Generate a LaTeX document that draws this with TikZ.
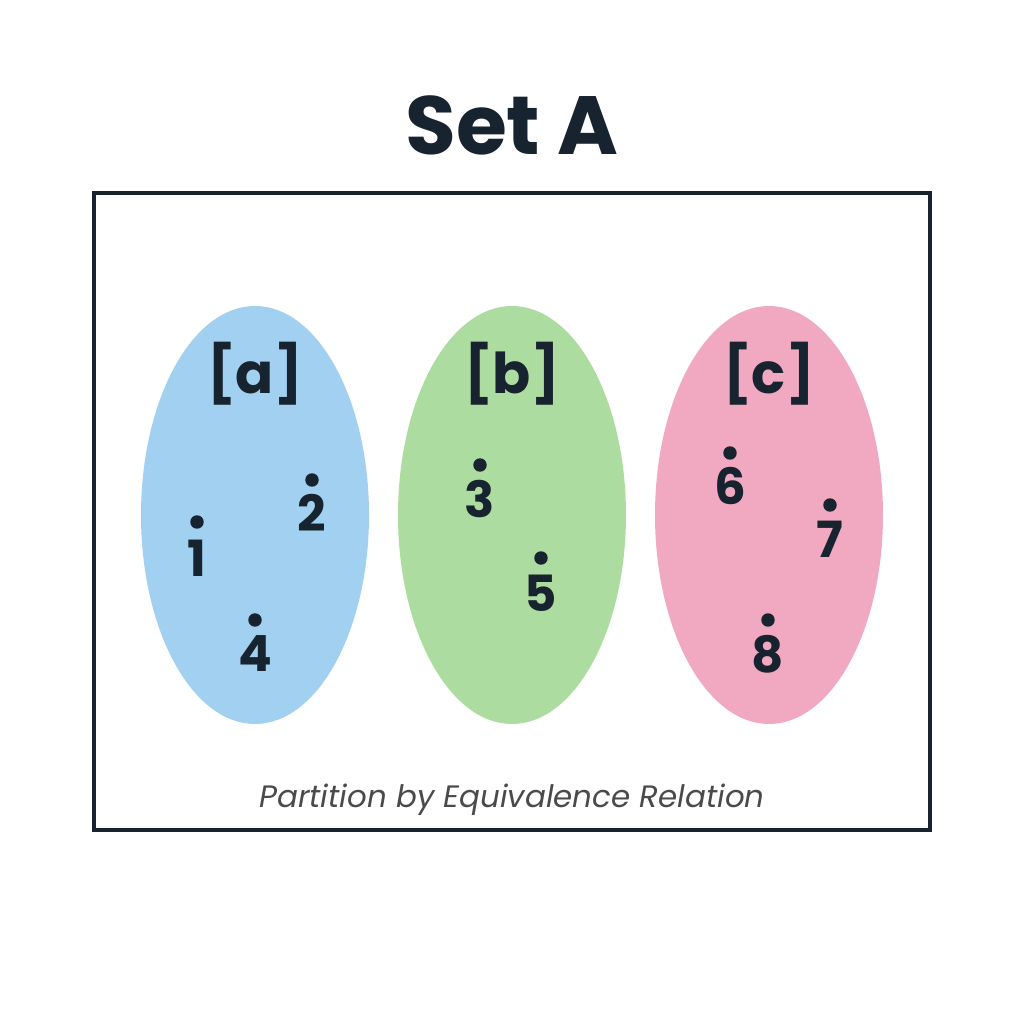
\documentclass[tikz,border=0pt]{standalone}
\usepackage{fontspec}
\setmainfont{Poppins}
\usepackage{xcolor}

\definecolor{ink}{HTML}{17232F}
\definecolor{classA}{HTML}{A2D0F0}
\definecolor{classB}{HTML}{ADDCA0}
\definecolor{classC}{HTML}{F0A9C1}
\definecolor{capgray}{HTML}{4A4A4A}

\tikzset{
  elem/.style={text=ink,font=\fontsize{14.2}{14.2}\selectfont\bfseries,anchor=base},
  clslabel/.style={text=ink,font=\fontsize{16}{16}\selectfont\bfseries,anchor=base},
}

\begin{document}
\begin{tikzpicture}
        \useasboundingbox (0,0) rectangle (10.24,10.24);
        \node[text=ink,font=\fontsize{23.5}{23.5}\selectfont\bfseries,anchor=base] (title) at (5.12,8.69) {Set A};
        \draw[ink,line width=1.2pt] (0.94,1.94) rectangle (9.30,8.31);

        % the three classes
        \fill[classA] (2.55,5.09) ellipse (1.14 and 2.09);
        \fill[classB] (5.12,5.09) ellipse (1.14 and 2.09);
        \fill[classC] (7.69,5.09) ellipse (1.14 and 2.09);
        \node[clslabel] (la) at (2.55,6.30) {[a]};
        \node[clslabel] (lb) at (5.12,6.30) {[b]};
        \node[clslabel] (lc) at (7.69,6.30) {[c]};

        % elements
        \filldraw[ink] (1.97,5.02) circle (0.06);
        \node[elem] (e1) at (1.97,4.47) {1};
        \filldraw[ink] (3.12,5.44) circle (0.06);
        \node[elem] (e2) at (3.12,4.92) {2};
        \filldraw[ink] (2.55,4.04) circle (0.06);
        \node[elem] (e4) at (2.55,3.52) {4};

        \filldraw[ink] (4.80,5.59) circle (0.06);
        \node[elem] (e3) at (4.80,5.06) {3};
        \filldraw[ink] (5.41,4.66) circle (0.06);
        \node[elem] (e5) at (5.41,4.12) {5};

        \filldraw[ink] (7.30,5.71) circle (0.06);
        \node[elem] (e6) at (7.30,5.19) {6};
        \filldraw[ink] (8.30,5.19) circle (0.06);
        \node[elem] (e7) at (8.30,4.66) {7};
        \filldraw[ink] (7.68,4.04) circle (0.06);
        \node[elem] (e8) at (7.68,3.51) {8};

        \node[text=capgray,font=\fontsize{8.8}{8.8}\selectfont\itshape,anchor=base] (cap) at (5.12,2.16) {Partition by Equivalence Relation};
\end{tikzpicture}
\end{document}
